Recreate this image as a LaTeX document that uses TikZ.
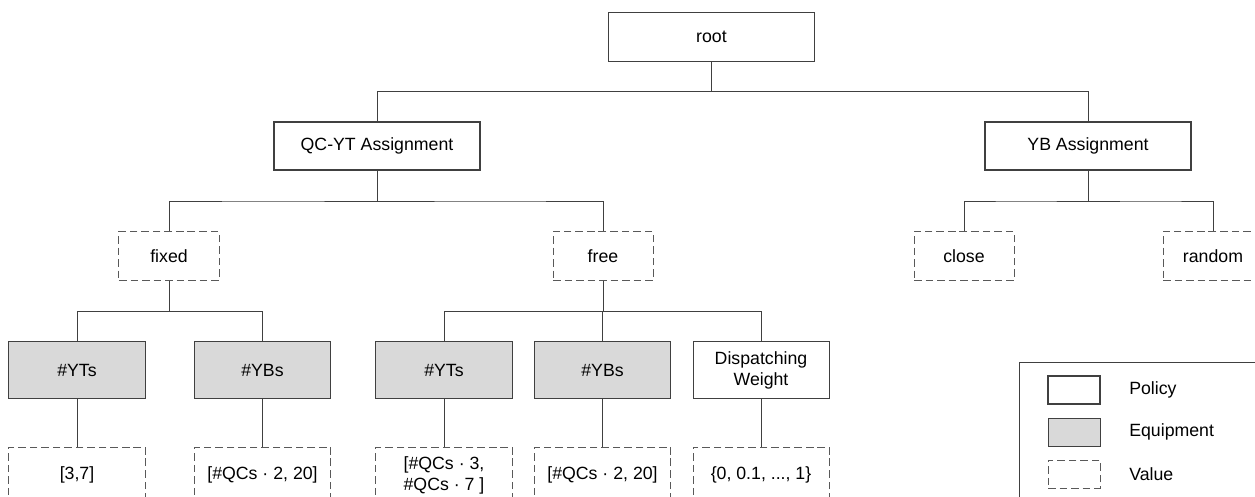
\documentclass[tikz,border=0pt]{standalone}
\usepackage{fontspec}
\setmainfont{Liberation Sans}
\usetikzlibrary{calc}

\begin{document}
\begin{tikzpicture}[x=0.025cm, y=-0.025cm,
    font=\fontsize{12.6}{15}\selectfont,
    box/.style = {draw=black!75, line width=0.7pt, rectangle, align=center, inner sep=0pt},
    policy/.style = {box, line width=1.4pt, minimum width=5.15cm, minimum height=1.2cm},
    equip/.style = {box, fill=black!15, minimum width=3.4cm, minimum height=1.4cm},
    value/.style = {box, draw=black!65, dash pattern=on 5.4pt off 2.8pt, minimum width=2.5cm, minimum height=1.225cm},
    leaf/.style = {value, minimum width=3.4cm, minimum height=1.4cm},
    link/.style = {draw=black!75, line width=0.7pt},
    fork/.style = {to path={(\tikztostart) |- ($(\tikztostart)!0.5!(\tikztotarget)$) -| (\tikztotarget)}}]
    \useasboundingbox (0,0) rectangle (1255,497);

    % tree
    \node[box, minimum width=5.125cm, minimum height=1.2cm] (root) at (711.5,37) {root};
    \node[policy] (qc) at (377,146) {QC-YT Assignment};
    \node[policy] (yb) at (1088,146) {YB Assignment};

    \node[value] (fixed) at (169,256) {fixed};
    \node[value] (free) at (603,256) {free};
    \node[value] (close) at (964,256) {close};
    \node[value] (random) at (1213,256) {random};

    \node[equip] (fyt) at (77,370) {\#YTs};
    \node[equip] (fyb) at (262.5,370) {\#YBs};
    \node[equip] (gyt) at (444,370) {\#YTs};
    \node[equip] (gyb) at (602.5,370) {\#YBs};
    \node[box, minimum width=3.4cm, minimum height=1.4cm] (dw) at (761,370) {Dispatching\\Weight};

    \node[leaf] (fytv) at (77,475) {[3,7]};
    \node[leaf] (fybv) at (262.5,475) {[\#QCs · 2, 20]};
    \node[leaf] (gytv) at (444,475) {[\#QCs · 3,\\\#QCs · 7 ]};
    \node[leaf] (gybv) at (602.5,475) {[\#QCs · 2, 20]};
    \node[leaf] (dwv) at (761,475) {\{0, 0.1, ..., 1\}};

    \draw[link] (root.south) to[fork] (qc.north);
    \draw[link] (root.south) to[fork] (yb.north);
    \draw[link] (qc.south) to[fork] (fixed.north);
    \draw[link] (qc.south) to[fork] (free.north);
    \draw[link] (yb.south) to[fork] (close.north);
    \draw[link] (yb.south) to[fork] (random.north);
    \draw[link] (fixed.south) to[fork] (fyt.north);
    \draw[link] (fixed.south) to[fork] (fyb.north);
    \draw[link] (free.south) to[fork] (gyt.north);
    \draw[link] (free.south) to[fork] (gyb.north);
    \draw[link] (free.south) to[fork] (dw.north);
    \draw[link] (fyt) -- (fytv);
    \draw[link] (fyb) -- (fybv);
    \draw[link] (gyt) -- (gytv);
    \draw[link] (gyb) -- (gybv);
    \draw[link] (dw) -- (dwv);

    % legend
    \node[box, anchor=north west, minimum width=6.6cm, minimum height=4cm] (legend) at (1019,362) {};
    \node[policy, minimum width=1.3cm, minimum height=0.7cm] (lpol) at (1074,390) {};
    \node[equip, minimum width=1.3cm, minimum height=0.7cm] (lequ) at (1074,432) {};
    \node[value, minimum width=1.3cm, minimum height=0.7cm] (lval) at (1074,474) {};
    \node[anchor=west, inner sep=0pt] (tpol) at (1129,390) {Policy};
    \node[anchor=west, inner sep=0pt] (tequ) at (1129,432) {Equipment};
    \node[anchor=west, inner sep=0pt] (tval) at (1129,474) {Value};
\end{tikzpicture}
\end{document}
